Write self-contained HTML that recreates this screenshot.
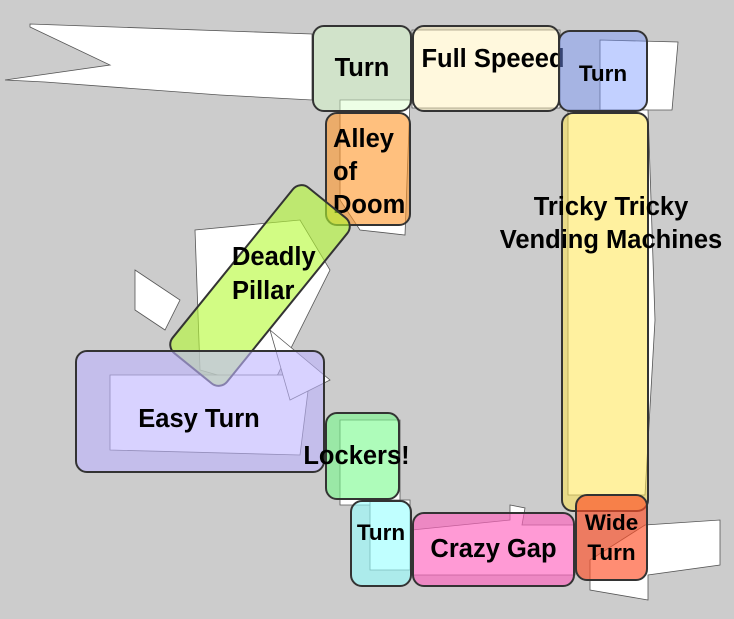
<!DOCTYPE html>
<html><head><style>
body{margin:0;width:734px;height:619px;background:#cccccc;overflow:hidden;position:relative;font-family:"Liberation Sans",Arial,sans-serif;}
.b{position:absolute;border:2px solid #333;border-radius:12px;box-sizing:border-box;display:flex;align-items:center;justify-content:center;text-align:center;font-weight:bold;color:#000;font-size:25.5px;line-height:33px;white-space:nowrap}
svg{position:absolute;left:0;top:0}
</style></head><body>
<svg width="734" height="619">
<g fill="#fff" stroke="#555" stroke-width="0.8">
<polygon points="30,24 312,34 312,100 220,95 45,82 5,80 110,65 30,27"/>
<polygon points="412,30 560,30 560,108 412,108"/>
<polygon points="600,40 678,42 672,110 600,110"/>
<polygon points="340,100 410,100 405,235 360,230 340,200"/>
<polygon points="568,110 648,110 655,320 645,495 568,495"/>
<polygon points="195,230 300,220 330,270 270,390 200,370"/>
<polygon points="110,375 310,375 300,455 110,450"/>
<polygon points="135,270 180,300 165,330 135,310"/>
<polygon points="270,330 330,380 290,400"/>
<polygon points="340,420 400,420 400,505 340,505"/>
<polygon points="370,500 410,500 410,570 370,570"/>
<polygon points="412,530 510,520 510,505 525,508 522,525 575,525 575,575 412,575"/>
<polygon points="645,525 720,520 720,565 648,575 648,600 590,590 590,560"/>
</g>
</svg>
<div class="b" style="left:312px;top:25px;width:100px;height:87px;background:rgba(215,255,200,0.45);padding-top:0">Turn</div>
<div class="b" style="left:412px;top:25px;width:148px;height:87px;background:rgba(255,240,180,0.45);align-items:flex-start;padding-top:16px;overflow:visible"><span style="position:relative;left:7px">Full Speeed</span></div>
<div class="b" style="left:558px;top:30px;width:90px;height:82px;background:rgba(120,150,255,0.45);font-size:22.5px;padding-top:4px">Turn</div>
<div class="b" style="left:325px;top:112px;width:86px;height:114px;background:rgba(255,150,40,0.6);justify-content:flex-start;padding-left:6px;padding-top:6px;text-align:left;overflow:visible">Alley<br>of<br>Doom</div>
<div class="b" style="left:561px;top:112px;width:88px;height:400px;background:rgba(255,230,80,0.55);align-items:flex-start;padding-top:77px;overflow:visible"><span style="position:relative;left:6px">Tricky Tricky<br>Vending Machines</span></div>
<div class="b" style="left:224px;top:178px;width:72px;height:215px;background:rgba(180,250,50,0.6);transform:rotate(39deg)"></div>
<div class="b" style="left:75px;top:350px;width:250px;height:123px;background:rgba(190,180,255,0.6);padding-top:16px;padding-right:2px">Easy Turn</div>
<div style="position:absolute;left:232px;top:240px;font-weight:bold;font-size:25.5px;line-height:34px">Deadly<br>Pillar</div>
<div class="b" style="left:325px;top:412px;width:75px;height:88px;background:rgba(120,250,140,0.6);overflow:visible;padding-right:12px">Lockers!</div>
<div class="b" style="left:350px;top:500px;width:62px;height:87px;background:rgba(150,255,255,0.6);align-items:flex-start;padding-top:14px;font-size:22.5px">Turn</div>
<div class="b" style="left:412px;top:512px;width:163px;height:75px;background:rgba(255,100,190,0.65);padding-top:0">Crazy Gap</div>
<div class="b" style="left:575px;top:494px;width:73px;height:87px;background:rgba(255,80,40,0.65);font-size:22.5px;line-height:30px">Wide<br>Turn</div>
</body></html>
